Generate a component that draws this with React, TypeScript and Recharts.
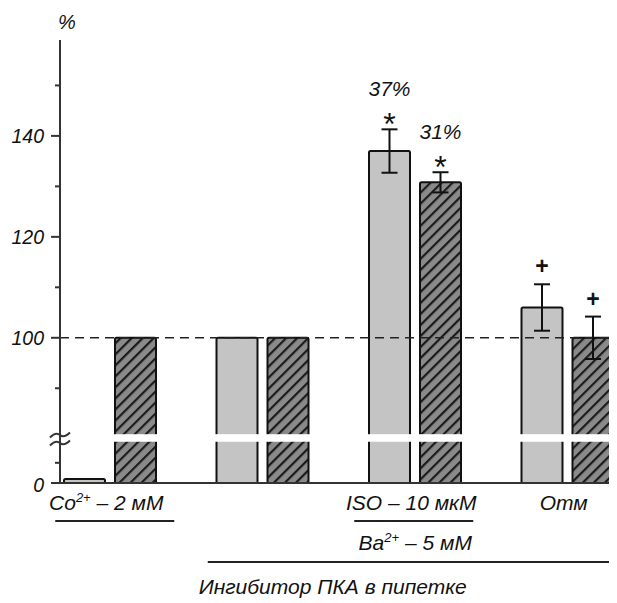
import React from 'react';
import { BarChart, Bar, XAxis, YAxis, ReferenceLine, ErrorBar } from 'recharts';

// ---------- data ----------
const groups = ['co', 'ctrl', 'iso', 'otm'];
const labelBase = ['Co', '', 'ISO – 10 мкМ', 'Отм'];
const labelSup = ['2+', '', '', ''];
const labelTail = [' – 2 мМ', '', '', ''];
const label2Base = ['', '', 'Ba', ''];
const label2Sup = ['', '', '2+', ''];
const label2Tail = ['', '', ' – 5 мМ', ''];
const bottomNote = 'Ингибитор ПКА в пипетке';

const grayValues = [2, 100, 137, 106];
const hatchValues = [100, 100, 130.8, 100];
const grayErrors = [0, 0, 4.3, 4.6];
const hatchErrors = [0, 0, 2.0, 4.2];
const grayMarks = ['', '', '*', '+'];
const hatchMarks = ['', '', '*', '+'];
const grayPercents = ['', '', '37%', ''];
const hatchPercents = ['', '', '31%', ''];

const yTickValues = [0, 10, 90, 100, 110, 120, 130, 140, 150];
const yTickLabels = ['0', '', '', '100', '', '120', '', '140', ''];
const yUnit = '%';

// ---------- broken axis ----------
const Y_MIN = 71.23; // bottom of axis, shown as 0
const Y_MAX = 159;
const BREAK_AT = 85;
const LOWER_SCALE = 0.4;
const GAP_LO = 79.4;
const GAP_HI = 80.9;
const BREAK_MARK = 80.15;
const toPlot = (v: number) => (v >= BREAK_AT ? v : Y_MIN + v * LOWER_SCALE);
const plotTicks = yTickValues.map(toPlot);

const FONT = '"Liberation Sans", Arial, sans-serif';
const INK = '#111';

const data = groups.map((g, i) => ({
  group: g,
  gray: toPlot(grayValues[i]),
  hatch: toPlot(hatchValues[i]),
  grayErr: grayErrors[i],
  hatchErr: hatchErrors[i],
}));

const makeShape =
  (values: number[], errors: number[], marks: string[], percents: string[], fill: string) =>
  (props: any) => {
    const { x, y, width, height, index, background } = props;
    if (height == null || isNaN(height)) return null;
    const bottom = y + height;
    const ppu = background && background.height ? background.height / (Y_MAX - Y_MIN) : 5.05;
    const py = (v: number) => bottom - (v - Y_MIN) * ppu;
    const out: any[] = [
      <rect key="r" x={x} y={y} width={width} height={height} fill={fill} stroke={INK} strokeWidth={2} rx={1.5} />,
    ];
    const gTop = py(GAP_HI);
    const gBot = py(GAP_LO);
    if (y < gTop - 2) {
      out.push(<rect key="g" x={x - 2} y={gTop} width={width + 4} height={gBot - gTop} fill="#fff" />);
    }
    const errTop = py(toPlot(values[index]) + errors[index]);
    const cx = x + width / 2;
    if (marks[index] === '*') {
      out.push(
        <text key="m" x={cx} y={errTop + 6} textAnchor="middle" fontSize={32} fontFamily={FONT} fill={INK}>
          *
        </text>
      );
    } else if (marks[index] === '+') {
      out.push(
        <text key="m" x={cx} y={errTop - 10} textAnchor="middle" fontSize={23} fontWeight="bold" fontFamily={FONT} fill={INK}>
          +
        </text>
      );
    }
    if (percents[index]) {
      out.push(
        <text key="p" x={cx} y={errTop - 33} textAnchor="middle" fontSize={21} fontStyle="italic" fontFamily={FONT} fill={INK}>
          {percents[index]}
        </text>
      );
    }
    return <g>{out}</g>;
  };

const grayShape = makeShape(grayValues, grayErrors, grayMarks, grayPercents, '#c4c4c4');
const hatchShape = makeShape(hatchValues, hatchErrors, hatchMarks, hatchPercents, 'url(#hatchFill)');

const YTick = (props: any) => {
  const { x, y, payload } = props;
  const v = payload.value;
  if (Math.abs(v - BREAK_MARK) < 1e-6) {
    const mk = (yc: number, k: string) => (
      <path
        key={k}
        d={`M${x - 10},${yc + 2.5} Q${x - 4},${yc - 3.5} ${x},${yc} T${x + 10},${yc - 2.5}`}
        fill="none"
        stroke="#333"
        strokeWidth={2}
      />
    );
    return <g>{[mk(y - 3, 'a'), mk(y + 5, 'b')]}</g>;
  }
  const i = plotTicks.findIndex((t) => Math.abs(t - v) < 1e-6);
  const label = i >= 0 ? yTickLabels[i] : '';
  const major = label !== '';
  const isZero = i === 0;
  return (
    <g>
      <line x1={x - (major ? 9 : 5)} x2={x} y1={y} y2={y} stroke="#333" strokeWidth={2} />
      {major && (
        <text x={x - 16} y={y + (isZero ? 9 : 7)} textAnchor="end" fontSize={19.5} fontStyle="italic" fontFamily={FONT} fill={INK}>
          {label}
        </text>
      )}
    </g>
  );
};

const underlineSpan: Record<number, [number, number]> = { 0: [-55, 64], 2: [-61, 58] };

const XTick = (props: any) => {
  const { x, y, payload } = props;
  const i = groups.indexOf(payload.value);
  const txt = { fontSize: 21, fontStyle: 'italic', fontFamily: FONT, fill: INK } as any;
  const els: any[] = [];
  if (labelBase[i]) {
    els.push(
      <text key="l1" x={x - 4} y={y + 27} textAnchor="middle" {...txt}>
        {labelBase[i]}
        {labelSup[i] ? <tspan dy={-8} fontSize={13}>{labelSup[i]}</tspan> : null}
        {labelTail[i] ? <tspan dy={8}>{labelTail[i]}</tspan> : null}
      </text>
    );
  }
  if (label2Base[i]) {
    els.push(
      <text key="l2" x={x} y={y + 67} textAnchor="middle" {...txt}>
        {label2Base[i]}
        {label2Sup[i] ? <tspan dy={-8} fontSize={13}>{label2Sup[i]}</tspan> : null}
        {label2Tail[i] ? <tspan dy={8}>{label2Tail[i]}</tspan> : null}
      </text>
    );
  }
  const u = underlineSpan[i];
  if (u) {
    els.push(<line key="u" x1={x + u[0]} x2={x + u[1]} y1={y + 38} y2={y + 38} stroke="#222" strokeWidth={2} />);
  }
  if (i === 1) {
    els.push(<line key="b" x1={x - 55} x2={x + 351} y1={y + 79} y2={y + 79} stroke="#222" strokeWidth={2} />);
    els.push(
      <text key="n" x={x + 70} y={y + 111} textAnchor="middle" {...txt}>
        {bottomNote}
      </text>
    );
  }
  return <g>{els}</g>;
};

const PercentLabel = (props: any) => {
  const vb = props.viewBox || { x: 0, y: 32, width: 52 };
  return (
    <text x={vb.x + vb.width + 7} y={vb.y - 11} textAnchor="middle" fontSize={20} fontStyle="italic" fontFamily={FONT} fill={INK}>
      {yUnit}
    </text>
  );
};

export default function App() {
  return (
    <div style={{ width: 609, height: 595, fontFamily: FONT }}>
      <BarChart
        width={609}
        height={595}
        data={data}
        margin={{ top: 32, right: 0, left: 0, bottom: 0 }}
        barSize={41}
        barGap={10}
      >
        <defs>
          <pattern id="hatchFill" patternUnits="userSpaceOnUse" width={7.8} height={7.8} patternTransform="rotate(45)">
            <rect x={0} y={0} width={7.8} height={7.8} fill="#8a8a8a" />
            <rect x={0} y={0} width={2.2} height={7.8} fill="#1a1a1a" />
          </pattern>
        </defs>
        <XAxis
          dataKey="group"
          type="category"
          padding={{ left: -26, right: -27 }}
          height={120}
          tick={<XTick />}
          tickLine={false}
          tickSize={0}
          tickMargin={0}
          interval={0}
          axisLine={{ stroke: '#333', strokeWidth: 2 }}
        />
        <YAxis
          type="number"
          domain={[Y_MIN, Y_MAX]}
          ticks={[...plotTicks, BREAK_MARK]}
          tick={<YTick />}
          tickLine={false}
          tickSize={0}
          tickMargin={0}
          interval={0}
          width={52}
          axisLine={{ stroke: '#333', strokeWidth: 2 }}
          label={<PercentLabel />}
        />
        <ReferenceLine y={100} stroke="#222" strokeWidth={1.5} strokeDasharray="9 6" />
        <Bar dataKey="gray" shape={grayShape} isAnimationActive={false}>
          <ErrorBar dataKey="grayErr" width={8} strokeWidth={2} stroke={INK} direction="y" isAnimationActive={false} />
        </Bar>
        <Bar dataKey="hatch" shape={hatchShape} isAnimationActive={false}>
          <ErrorBar dataKey="hatchErr" width={8} strokeWidth={2} stroke={INK} direction="y" isAnimationActive={false} />
        </Bar>
      </BarChart>
    </div>
  );
}
